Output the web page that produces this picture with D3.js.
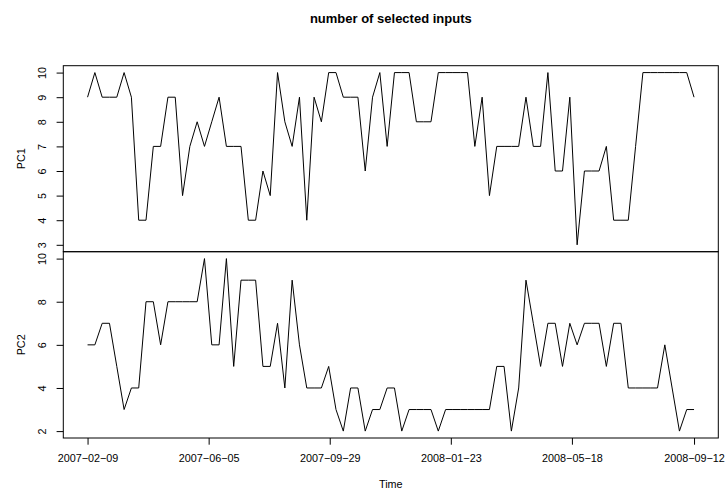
<!DOCTYPE html>
<html>
<head>
<meta charset="utf-8">
<script src="https://cdn.jsdelivr.net/npm/d3@7"></script>
<style>
  html, body { margin: 0; padding: 0; background: #fff; }
  svg { display: block; font-family: "Liberation Sans", Arial, Helvetica, sans-serif; }
</style>
</head>
<body>
<svg id="chart" width="725" height="490"></svg>
<script>
// ---- data ----
const chartTitle = "number of selected inputs";
const xLabel = "Time";
const seriesNames = ["PC1", "PC2"];
const startDate = "2007-02-09";   // first weekly observation
const stepDays = 7;               // weekly series
const pc1 = [9,10,9,9,9,10,9,4,4,7,
             7,9,9,5,7,8,7,8,9,7,
             7,7,4,4,6,5,10,8,7,9,
             4,9,8,10,10,9,9,9,6,9,
             10,7,10,10,10,8,8,8,10,10,
             10,10,10,7,9,5,7,7,7,7,
             9,7,7,10,6,6,9,3,6,6,
             6,7,4,4,4,7,10,10,10,10,
             10,10,10,9];
const pc2 = [6,6,7,7,5,3,4,4,8,8,
             6,8,8,8,8,8,10,6,6,10,
             5,9,9,9,5,5,7,4,9,6,
             4,4,4,5,3,2,4,4,2,3,
             3,4,4,2,3,3,3,3,2,3,
             3,3,3,3,3,3,5,5,2,4,
             9,7,5,7,7,5,7,6,7,7,
             7,5,7,7,4,4,4,4,4,6,
             4,2,3,3];
const xTickLabels = ["2007-02-09","2007-06-05","2007-09-29","2008-01-23","2008-05-18","2008-09-12"];
const pc1Ticks = [3,4,5,6,7,8,9,10];
const pc2Ticks = [2,4,6,8,10];

// ---- layout ----
const svg = d3.select("#chart");
const L = 63.3, R = 718.3;
const panels = [
  { top: 65.7, bottom: 251.7, values: pc1, ticks: pc1Ticks, name: seriesNames[0] },
  { top: 251.7, bottom: 438.0, values: pc2, ticks: pc2Ticks, name: seriesNames[1] }
];
const font = 10.8;

const parse = d3.utcParse("%Y-%m-%d");
const t0 = parse(startDate);
const dates = pc1.map((_, i) => d3.utcDay.offset(t0, i * stepDays));
const tMin = dates[0], tMax = dates[dates.length - 1];
const pad = (tMax - tMin) * 0.04;
const x = d3.scaleUtc()
  .domain([new Date(+tMin - pad), new Date(+tMax + pad)])
  .range([L, R]);

svg.append("rect").attr("width", 725).attr("height", 490).attr("fill", "#fff");

panels.forEach((p, k) => {
  const lo = d3.min(p.values), hi = d3.max(p.values);
  const ypad = (hi - lo) * 0.04;
  const y = d3.scaleLinear().domain([lo - ypad, hi + ypad]).range([p.bottom, p.top]);

  // series line
  svg.append("path")
    .datum(p.values)
    .attr("fill", "none")
    .attr("stroke", "#000")
    .attr("stroke-width", 1)
    .attr("d", d3.line().x((d, i) => x(dates[i])).y(d => y(d)));

  // y axis
  const ga = svg.append("g").attr("transform", `translate(${L},0)`)
    .call(d3.axisLeft(y).tickValues(p.ticks).tickSize(6.7).tickSizeOuter(0));
  ga.select(".domain").remove();
  ga.selectAll(".tick line").attr("stroke", "#000");
  ga.selectAll(".tick text")
    .attr("transform", "rotate(-90)")
    .attr("x", 0).attr("y", -17.6).attr("dy", 0)
    .attr("text-anchor", "middle")
    .attr("fill", "#000")
    .style("font-size", font + "px")
    .style("font-family", '"Liberation Sans", Arial, sans-serif');

  // panel label
  svg.append("text")
    .attr("transform", `translate(25,${(p.top + p.bottom) / 2}) rotate(-90)`)
    .attr("text-anchor", "middle")
    .style("font-size", font + "px")
    .text(p.name);

  // box
  svg.append("rect")
    .attr("x", L).attr("y", p.top)
    .attr("width", R - L).attr("height", p.bottom - p.top)
    .attr("fill", "none").attr("stroke", "#000").attr("stroke-width", 1);

  if (k === panels.length - 1) {
    const tickDates = xTickLabels.map(parse);
    const gx = svg.append("g").attr("transform", `translate(0,${p.bottom})`)
      .call(d3.axisBottom(x).tickValues(tickDates).tickSize(6.7).tickPadding(9.3)
        .tickFormat((d, i) => xTickLabels[i].replace(/-/g, "\u2212")));
    gx.select(".domain").remove();
    gx.selectAll(".tick line").attr("stroke", "#000");
    gx.selectAll(".tick text")
      .attr("fill", "#000")
      .style("font-size", font + "px")
      .style("font-family", '"Liberation Sans", Arial, sans-serif');
  }
});

// title and x label
svg.append("text")
  .attr("x", (L + R) / 2).attr("y", 22.5)
  .attr("text-anchor", "middle")
  .style("font-size", "13px").style("font-weight", "bold")
  .text(chartTitle);

svg.append("text")
  .attr("x", (L + R) / 2).attr("y", 488)
  .attr("text-anchor", "middle")
  .style("font-size", font + "px")
  .text(xLabel);
</script>
</body>
</html>
